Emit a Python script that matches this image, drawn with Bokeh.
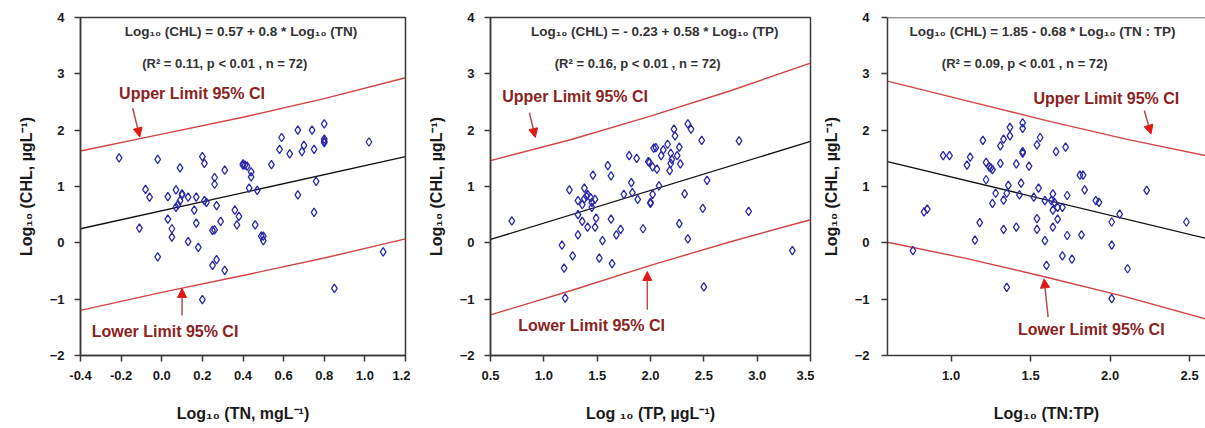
from bokeh.plotting import figure
from bokeh.layouts import row
from bokeh.models import Range1d, Label, Arrow, NormalHead, FixedTicker, NumeralTickFormatter, Span
from bokeh.embed import file_html
from bokeh.resources import INLINE

# ---------------- data: panel 1 (TN) ----------------
tn_x = [-0.21, -0.02, 0.09, 0.20, 0.21, 0.31, 0.26, 0.26, 0.40, -0.08, -0.06, 0.03, 0.07, 0.10, 0.13, 0.17,
        0.09, 0.21, 0.27, 0.07, 0.16, 0.03, 0.17, 0.29, 0.36, 0.38, 0.37, -0.11, 0.05, 0.05, 0.25, 0.13,
        0.18, -0.02, 0.27, 0.25, 0.31, 0.20,
        0.67, 0.74, 0.80, 0.59, 0.80, 0.80, 0.70, 0.69, 0.75, 0.58, 0.63, 1.02, 0.54, 0.41, 0.44, 0.44,
        0.43, 0.47, 0.76, 0.67, 0.75, 0.46, 0.49, 0.50, 1.09, 0.85,
        0.40, 0.10, 0.08, 0.26, 0.50, 0.80, 0.42, 0.22]
tn_y = [1.51, 1.48, 1.33, 1.53, 1.41, 1.29, 1.16, 1.04, 1.38, 0.95, 0.81, 0.82, 0.94, 0.87, 0.81, 0.81,
        0.75, 0.75, 0.66, 0.63, 0.58, 0.42, 0.35, 0.38, 0.58, 0.47, 0.32, 0.26, 0.25, 0.10, 0.22, 0.02,
        -0.08, -0.25, -0.30, -0.40, -0.49, -1.01,
        2.00, 2.00, 2.11, 1.87, 1.84, 1.78, 1.73, 1.62, 1.66, 1.66, 1.58, 1.79, 1.39, 1.38, 1.26, 1.17,
        0.97, 0.93, 1.09, 0.85, 0.54, 0.32, 0.12, 0.04, -0.16, -0.81,
        1.40, 0.85, 0.68, 0.23, 0.12, 1.80, 1.36, 0.72]
tn_fit = (0.57, 0.8)
tn_ci_x = [-0.4, 0.0, 0.4, 0.8, 1.2]
tn_upper = [1.63, 1.93, 2.23, 2.56, 2.93]
tn_lower = [-1.20, -0.88, -0.58, -0.27, 0.07]
tn_xticks = [-0.4, -0.2, 0.0, 0.2, 0.4, 0.6, 0.8, 1.0, 1.2]

# ---------------- data: panel 2 (TP) ----------------
tp_x = [1.80, 1.87, 1.60, 1.63, 1.46, 1.98, 2.03, 2.02, 1.24, 1.38, 1.41, 1.32, 1.44, 1.48, 1.36, 1.45,
        1.82, 1.75, 1.83, 1.88, 2.00, 0.70, 1.32, 1.49, 1.63, 1.36, 1.41, 1.48, 1.72, 1.68, 1.93, 1.32,
        1.55, 1.17, 1.27, 1.52, 1.64, 1.19, 1.20,
        2.35, 2.38, 2.22, 2.23, 2.48, 2.83, 2.16, 2.05, 2.12, 2.27, 2.19, 2.25, 1.99, 2.06, 2.19, 2.28,
        2.18, 2.53, 2.08, 2.02, 2.00, 2.32, 2.49, 2.92, 2.27, 2.35, 3.33, 2.50,
        1.40, 1.45, 2.10, 2.20, 1.38]
tp_y = [1.55, 1.50, 1.37, 1.19, 1.20, 1.44, 1.68, 1.35, 0.94, 0.97, 0.86, 0.75, 0.80, 0.77, 0.68, 0.63,
        1.07, 0.86, 0.89, 0.77, 0.72, 0.39, 0.50, 0.44, 0.42, 0.38, 0.28, 0.28, 0.24, 0.14, 0.25, 0.14,
        0.04, -0.04, -0.23, -0.27, -0.37, -0.45, -0.98,
        2.11, 2.02, 2.02, 1.90, 1.82, 1.81, 1.75, 1.69, 1.65, 1.70, 1.59, 1.55, 1.43, 1.31, 1.41, 1.40,
        1.28, 1.11, 1.01, 0.86, 0.70, 0.87, 0.61, 0.56, 0.34, 0.07, -0.14, -0.78,
        0.83, 0.72, 1.55, 1.48, 0.78]
tp_fit = (-0.23, 0.58)
tp_ci_x = [0.5, 1.25, 2.0, 2.75, 3.5]
tp_upper = [1.46, 1.83, 2.25, 2.70, 3.19]
tp_lower = [-1.28, -0.85, -0.40, 0.02, 0.41]
tp_xticks = [0.5, 1.0, 1.5, 2.0, 2.5, 3.0, 3.5]

# ---------------- data: panel 3 (TN:TP) ----------------
ratio_x = [1.45, 1.45, 1.37, 1.37, 1.33, 1.31, 1.20, 1.56, 1.54, 1.45, 1.45, 0.95, 0.99, 1.12, 1.10, 1.22,
           1.24, 1.26, 1.31, 1.41, 1.49, 1.22, 1.36, 1.44, 1.55, 1.28, 1.35, 1.43, 1.52, 1.33, 1.26, 1.59,
           0.83, 0.85, 1.18, 1.33, 1.41, 1.54, 1.54, 1.15, 1.59, 0.76, 1.60, 1.35,
           1.72, 1.66, 1.81, 1.83, 1.84, 2.23, 1.64, 1.73, 1.63, 1.91, 1.93, 1.65, 1.67, 1.70, 1.64, 2.06,
           2.01, 2.48, 1.67, 1.64, 1.73, 1.82, 2.01, 1.70, 1.76, 2.11, 2.01,
           1.25]
ratio_y = [2.13, 2.03, 2.05, 1.90, 1.84, 1.72, 1.82, 1.87, 1.74, 1.62, 1.59, 1.55, 1.55, 1.52, 1.38, 1.43,
           1.35, 1.30, 1.41, 1.40, 1.36, 1.12, 1.02, 1.06, 0.97, 0.88, 0.88, 0.85, 0.81, 0.76, 0.70, 0.75,
           0.55, 0.60, 0.36, 0.24, 0.28, 0.43, 0.24, 0.05, 0.04, -0.14, -0.40, -0.79,
           1.70, 1.62, 1.20, 1.20, 0.94, 0.93, 0.87, 0.84, 0.75, 0.75, 0.72, 0.72, 0.63, 0.63, 0.58, 0.51,
           0.37, 0.37, 0.42, 0.28, 0.13, 0.14, -0.04, -0.23, -0.29, -0.46, -0.99,
           1.33]
ratio_fit = (1.85, -0.68)
ratio_ci_x = [0.6, 1.1, 1.6, 2.1, 2.6]
ratio_upper = [2.87, 2.52, 2.17, 1.84, 1.55]
ratio_lower = [0.01, -0.28, -0.61, -0.96, -1.35]
ratio_xticks = [1.0, 1.5, 2.0, 2.5]

y_ticks = [-2, -1, 0, 1, 2, 3, 4]

FONT = "Liberation Sans"
AX = "#3a3a3a"
PT = "#2b2ba8"
CI = "#d04545"
CI_TXT = "#8b2323"
ARROW_HEAD = "#e01818"
ARROW_LINE = "#b05050"
TXT = "#1a1a1a"


def make_panel(xs, ys, xr, xticks, fit, ci_x, ci_up, ci_lo, xlabel, width, left, right,
               frame_h=338, y_std=10, y_lab_std=12, top=17, outline=True):
    bottom = 428 - top - frame_h
    p = figure(width=width, height=428, output_backend="svg", toolbar_location=None,
               x_range=Range1d(*xr), y_range=Range1d(-2, 4),
               min_border_left=left, min_border_right=right, min_border_top=top,
               min_border_bottom=bottom, background_fill_color="white",
               border_fill_color="white")
    p.grid.visible = False
    if outline:
        p.outline_line_color = AX
        p.outline_line_width = 1.5
    else:
        p.outline_line_color = None
        p.add_layout(Span(location=4, dimension="width", line_color=AX, line_width=1.5))
    for ax in (p.xaxis[0], p.yaxis[0]):
        ax.axis_line_color = AX
        ax.axis_line_width = 1.5
        ax.major_tick_line_color = AX
        ax.major_tick_line_width = 1.5
        ax.major_tick_in = 0
        ax.major_tick_out = 6
        ax.minor_tick_line_color = None
        ax.major_label_text_font = FONT
        ax.major_label_text_font_style = "bold"
        ax.major_label_text_font_size = "13px"
        ax.major_label_text_color = TXT
        ax.axis_label_text_font = FONT
        ax.axis_label_text_font_style = "bold"
        ax.axis_label_text_font_size = "16px"
        ax.axis_label_text_color = TXT
    p.xaxis.ticker = FixedTicker(ticks=xticks)
    p.xaxis.formatter = NumeralTickFormatter(format="0.0")
    p.yaxis.ticker = FixedTicker(ticks=y_ticks)
    p.xaxis.major_label_standoff = 9
    p.xaxis.axis_label_standoff = 22
    p.xaxis.axis_label = xlabel
    p.yaxis.major_label_standoff = y_std
    p.yaxis.axis_label_standoff = y_lab_std
    p.yaxis.axis_label = "Log\u2081\u2080 (CHL, \u00b5gL\u207b\u00b9)"

    a, b = fit
    p.line(ci_x, ci_up, line_color=CI, line_width=1.4)
    p.line(ci_x, ci_lo, line_color=CI, line_width=1.4)
    p.line([xr[0], xr[1]], [a + b * xr[0], a + b * xr[1]], line_color="#111111", line_width=1.3)
    p.scatter(xs, ys, marker="diamond", size=8.5, fill_color=None, line_color=PT, line_width=1.3)
    return p


def add_text(p, eq1, eq2, e1, e2, up_pos, up_arrow, lo_pos, lo_arrow):
    p.add_layout(Label(x=e1[0], y=e1[1], text=eq1, text_font=FONT, text_font_style="bold",
                       text_font_size="13.5px", text_color="#333333", text_align="center",
                       text_baseline="middle"))
    p.add_layout(Label(x=e2[0], y=e2[1], text=eq2, text_font=FONT, text_font_style="bold",
                       text_font_size="13px", text_color="#333333", text_align="center",
                       text_baseline="middle"))
    for pos, txt in ((up_pos, "Upper Limit 95% CI"), (lo_pos, "Lower Limit 95% CI")):
        p.add_layout(Label(x=pos[0], y=pos[1], text=txt, text_font=FONT, text_font_style="bold",
                           text_font_size="16px", text_color=CI_TXT, text_align="left",
                           text_baseline="middle"))
    for arr in (up_arrow, lo_arrow):
        p.add_layout(Arrow(x_start=arr[0], y_start=arr[1], x_end=arr[2], y_end=arr[3],
                           line_color=ARROW_LINE, line_width=1.5,
                           end=NormalHead(size=9, fill_color=ARROW_HEAD, line_color=ARROW_HEAD)))


p1 = make_panel(tn_x, tn_y, (-0.4, 1.2), tn_xticks, tn_fit, tn_ci_x, tn_upper, tn_lower,
                "Log\u2081\u2080 (TN, mgL\u207b\u00b9)", 410, 80, 5)
add_text(p1, "Log\u2081\u2080 (CHL) = 0.57 + 0.8 * Log\u2081\u2080 (TN)",
         "(R\u00b2 = 0.11, p < 0.01 , n = 72)", (0.39, 3.75), (0.31, 3.19),
         (-0.21, 2.65), (-0.143, 2.39, -0.108, 1.88),
         (-0.345, -1.58), (0.10, -1.29, 0.10, -0.81))

p2 = make_panel(tp_x, tp_y, (0.5, 3.5), tp_xticks, tp_fit, tp_ci_x, tp_upper, tp_lower,
                "Log \u2081\u2080 (TP, \u00b5gL\u207b\u00b9)", 404, 80, 4)
add_text(p2, "Log\u2081\u2080 (CHL) = - 0.23 + 0.58 * Log\u2081\u2080 (TP)",
         "(R\u00b2 = 0.16, p < 0.01 , n = 72)", (2.04, 3.75), (1.88, 3.19),
         (0.61, 2.59), (0.865, 2.31, 0.92, 1.87),
         (0.76, -1.47), (1.97, -1.19, 1.97, -0.51))

p3 = make_panel(ratio_x, ratio_y, (0.6, 2.6), ratio_xticks, ratio_fit, ratio_ci_x, ratio_upper,
                ratio_lower, "Log\u2081\u2080 (TN:TP)", 391, 73, 0,
                y_std=12, y_lab_std=12, outline=False)
add_text(p3, "Log\u2081\u2080 (CHL) = 1.85 - 0.68 * Log\u2081\u2080 (TN : TP)",
         "(R\u00b2 = 0.09, p < 0.01 , n = 72)", (1.575, 3.75), (1.463, 3.19),
         (1.518, 2.56), (2.215, 2.35, 2.257, 1.93),
         (1.42, -1.53), (1.61, -1.32, 1.585, -0.64))

layout = row(p1, p2, p3)
open("out.html", "w").write(file_html(layout, INLINE))
